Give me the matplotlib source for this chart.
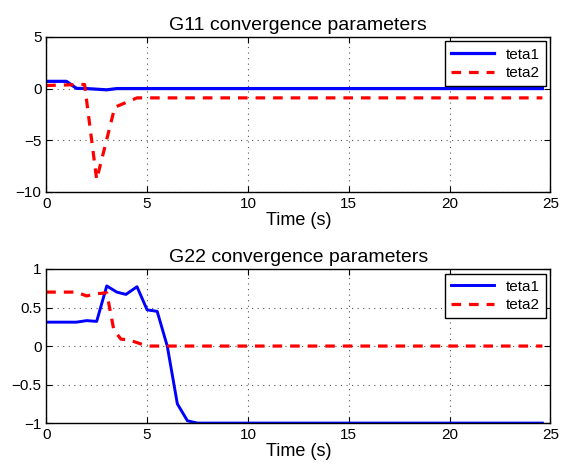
import matplotlib
matplotlib.use("Agg")
import matplotlib.pyplot as plt
from matplotlib.ticker import FuncFormatter

plt.rcParams['font.family'] = ['Liberation Sans', 'DejaVu Sans']

# G11: parameter trajectories
t11_1 = [0, 1.0, 1.5, 2.0, 3.0, 3.5, 24.6]
g11_teta1 = [0.7, 0.7, 0.02, 0.0, -0.12, 0.0, 0.0]
t11_2 = [0, 1.0, 1.9, 2.5, 3.4, 4.5, 24.6]
g11_teta2 = [0.3, 0.35, 0.4, -8.8, -1.8, -0.9, -0.9]

# G22: parameter trajectories
t22_1 = [0, 1.5, 2.0, 2.5, 3.0, 3.5, 3.95, 4.5, 5.0, 5.5, 6.0, 6.5, 7.0, 7.5, 24.6]
g22_teta1 = [0.31, 0.31, 0.33, 0.32, 0.78, 0.7, 0.67, 0.77, 0.47, 0.45, 0.0, -0.75, -0.97, -1.0, -1.0]
t22_2 = [0, 1.5, 2.0, 2.5, 3.0, 3.35, 3.7, 4.1, 5.0, 24.6]
g22_teta2 = [0.7, 0.7, 0.65, 0.68, 0.69, 0.21, 0.09, 0.08, 0.0, 0.0]

fig = plt.figure(figsize=(5.64, 4.67), dpi=100)
ax1 = fig.add_axes([0.082, 0.589, 0.894, 0.332])
ax2 = fig.add_axes([0.082, 0.094, 0.894, 0.330])

fmt = FuncFormatter(lambda v, p: f'{v:g}'.replace('-', '\u2212'))

def style(ax, title, ylim, yticks):
    ax.set_xlim(0, 25)
    ax.set_ylim(*ylim)
    ax.set_xticks([0, 5, 10, 15, 20, 25])
    ax.set_yticks(yticks)
    ax.yaxis.set_major_formatter(fmt)
    ax.grid(True, linestyle=(0, (1, 4)), color='#555555', linewidth=0.8)
    ax.tick_params(direction='in', labelsize=11, length=4, top=True, right=True)
    ax.set_title(title, fontsize=14, pad=5)
    ax.set_xlabel('Time (s)', fontsize=13, labelpad=1)
    ax.legend(loc='upper right', fontsize=11, handlelength=2.8,
              fancybox=False, edgecolor='black', framealpha=1,
              borderaxespad=0.3, labelspacing=0.3)
    for s in ax.spines.values():
        s.set_linewidth(1.0)

ax1.plot(t11_1, g11_teta1, color='blue', lw=2.3, label='teta1')
ax1.plot(t11_2, g11_teta2, color='red', lw=2.3, ls='--', dashes=(3, 2.5), label='teta2')
style(ax1, 'G11 convergence parameters', (-10, 5), [-10, -5, 0, 5])

ax2.plot(t22_1, g22_teta1, color='blue', lw=2.1, label='teta1')
ax2.plot(t22_2, g22_teta2, color='red', lw=2.3, ls='--', dashes=(3, 2.5), label='teta2')
style(ax2, 'G22 convergence parameters', (-1, 1), [-1, -0.5, 0, 0.5, 1])

fig.savefig('out.png', dpi=100)
